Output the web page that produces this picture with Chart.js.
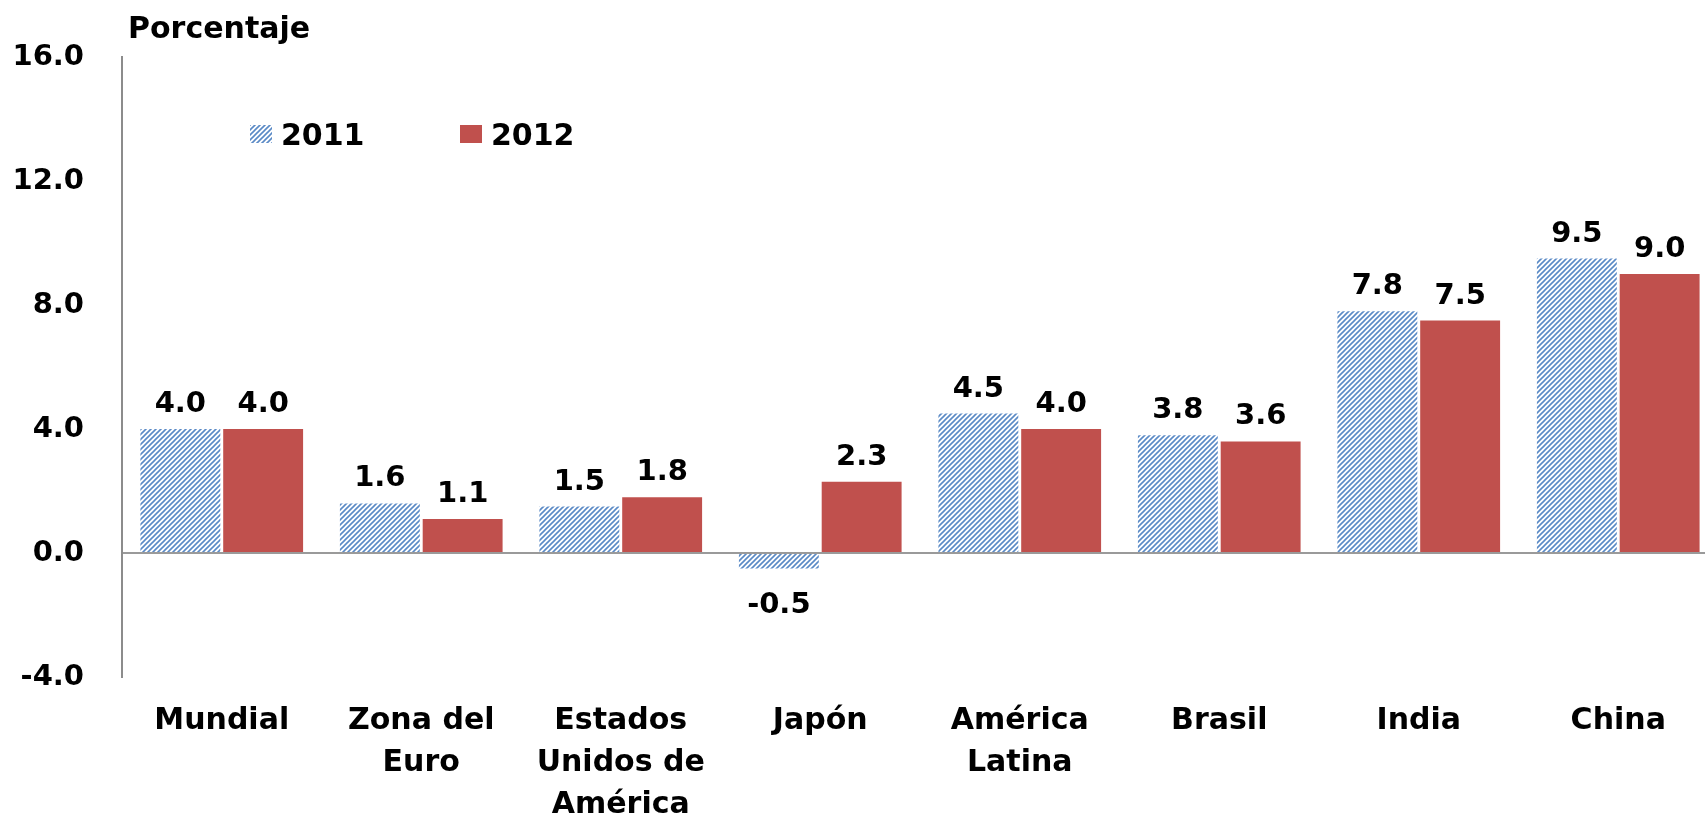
<!DOCTYPE html>
<html>
<head>
<meta charset="utf-8">
<script src="https://cdn.jsdelivr.net/npm/chart.js@4"></script>
<style>
  html, body { margin: 0; padding: 0; background: #fff; overflow: hidden; }
</style>
</head>
<body>
<canvas id="myChart" width="1720" height="819"></canvas>
<script>
var regiones = [['Mundial'], ['Zona del', 'Euro'], ['Estados', 'Unidos de', 'América'], ['Japón'], ['América', 'Latina'], ['Brasil'], ['India'], ['China']]
var valores2011 = [4.0, 1.6, 1.5, -0.5, 4.5, 3.8, 7.8, 9.5]
var valores2012 = [4.0, 1.1, 1.8, 2.3, 4.0, 3.6, 7.5, 9.0]
var ticksY = [-4, 0, 4, 8, 12, 16]
var tituloEje = 'Porcentaje'

var fuente = '"DejaVu Sans", Verdana, sans-serif'
var azul = '#5A8AC6', rojo = '#C0504D'

let ctx = document.getElementById('myChart').getContext('2d')

// rayado diagonal para la serie 2011
function rayado() {
    let c = document.createElement('canvas')
    c.width = 5; c.height = 5
    let g = c.getContext('2d')
    g.fillStyle = '#fff'
    g.fillRect(0, 0, 5, 5)
    g.strokeStyle = azul
    g.lineWidth = 1.6
    g.beginPath()
    g.moveTo(-1, 6); g.lineTo(6, -1)
    g.moveTo(-3.5, 3.5); g.lineTo(3.5, -3.5)
    g.moveTo(1.5, 8.5); g.lineTo(8.5, 1.5)
    g.stroke()
    return ctx.createPattern(c, 'repeat')
}
var patron = rayado()

const etiquetas = {
    id: 'etiquetas',
    afterDatasetsDraw(chart) {
        let c = chart.ctx
        c.save()
        c.font = 'bold 29px ' + fuente
        c.fillStyle = '#000'
        c.textAlign = 'center'
        c.textBaseline = 'alphabetic'
        chart.data.datasets.forEach((ds, i) => {
            chart.getDatasetMeta(i).data.forEach((bar, j) => {
                let v = ds.data[j]
                let y = v >= 0 ? bar.y - 17 : bar.y + 44
                c.fillText(v.toFixed(1), bar.x, y)
            })
        })
        c.restore()
    }
}

const leyenda = {
    id: 'leyenda',
    afterDraw(chart) {
        let c = chart.ctx
        let pos = [250, 460]
        c.save()
        c.font = 'bold 30px ' + fuente
        c.textBaseline = 'alphabetic'
        c.textAlign = 'left'
        chart.data.datasets.forEach((ds, i) => {
            c.fillStyle = ds.backgroundColor
            c.fillRect(pos[i], 125, 22, 18)
            c.fillStyle = '#000'
            c.fillText(ds.label, pos[i] + 31, 145)
        })
        // titulo del eje
        c.fillText(tituloEje, 128, 38)
        c.restore()
    }
}

let myChart = new Chart(ctx, {
    type: 'bar',
    data: {
        labels: regiones,
        datasets: [{
            label: '2011',
            data: valores2011,
            backgroundColor: patron,
            borderWidth: 0
        }, {
            label: '2012',
            data: valores2012,
            backgroundColor: rojo,
            borderWidth: 0
        }]
    },
    options: {
        responsive: false,
        animation: false,
        layout: { padding: { top: 57, right: 2, left: 0, bottom: 0 } },
        datasets: { bar: { categoryPercentage: 0.83, barPercentage: 0.965 } },
        plugins: { legend: { display: false }, tooltip: { enabled: false } },
        scales: {
            x: {
                grid: { display: false, drawTicks: false },
                border: { display: false },
                afterFit: (s) => { s.height = 142 },
                ticks: {
                    color: '#000',
                    padding: 23,
                    maxRotation: 0,
                    autoSkip: false,
                    font: { family: fuente, size: 30, weight: 'bold', lineHeight: 1.4 }
                }
            },
            y: {
                min: -4,
                max: 16,
                afterBuildTicks: (s) => { s.ticks = ticksY.map(v => ({ value: v })) },
                afterFit: (s) => { s.width = 122 },
                border: { display: true, color: '#8c8c8c', width: 2 },
                grid: {
                    drawTicks: false,
                    lineWidth: 2,
                    color: (c) => c.tick && c.tick.value === 0 ? '#9a9a9a' : 'rgba(0,0,0,0)'
                },
                ticks: {
                    color: '#000',
                    padding: 38,
                    font: { family: fuente, size: 29, weight: 'bold' },
                    callback: (v) => v.toFixed(1)
                }
            }
        }
    },
    plugins: [etiquetas, leyenda]
})
</script>
</body>
</html>
